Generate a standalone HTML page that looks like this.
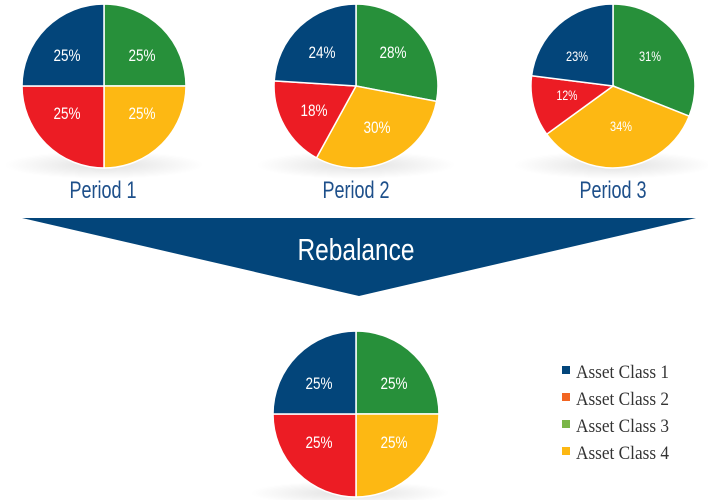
<!DOCTYPE html>
<html><head><meta charset="utf-8"><style>
html,body{margin:0;padding:0;background:#fff;width:708px;height:500px;overflow:hidden}
svg{display:block}
.p{font-family:"Liberation Sans",sans-serif;fill:#fff;text-anchor:middle}
.l{font-family:"Liberation Sans",sans-serif;fill:#1d4f8a;font-size:24px;text-anchor:middle}
.g{font-family:"Liberation Serif",serif;fill:#333;font-size:19px}
</style></head><body>
<svg width="708" height="500" viewBox="0 0 708 500" xmlns="http://www.w3.org/2000/svg">
<defs><radialGradient id="sh" cx="0.5" cy="0.5" r="0.5"><stop offset="0" stop-color="#000" stop-opacity="0.12"/><stop offset="1" stop-color="#000" stop-opacity="0"/></radialGradient></defs>
<ellipse cx="104" cy="165" rx="100" ry="14" fill="url(#sh)"/>
<ellipse cx="356" cy="165" rx="100" ry="14" fill="url(#sh)"/>
<ellipse cx="613" cy="165" rx="100" ry="14" fill="url(#sh)"/>
<ellipse cx="350" cy="493" rx="100" ry="12" fill="url(#sh)"/>
<g stroke="#fff" stroke-width="1.5">
<path d="M104,86 L104,4 A82,82 0 0 1 186,86 Z" fill="#27903a"/>
<path d="M104,86 L186,86 A82,82 0 0 1 104,168 Z" fill="#fdb813"/>
<path d="M104,86 L104,168 A82,82 0 0 1 22,86 Z" fill="#ec1c24"/>
<path d="M104,86 L22,86 A82,82 0 0 1 104,4 Z" fill="#03457a"/>
<path d="M356,86 L356,4 A82,82 0 0 1 436.5,101.4 Z" fill="#27903a"/>
<path d="M356,86 L436.5,101.4 A82,82 0 0 1 316.5,157.9 Z" fill="#fdb813"/>
<path d="M356,86 L316.5,157.9 A82,82 0 0 1 274.2,80.9 Z" fill="#ec1c24"/>
<path d="M356,86 L274.2,80.9 A82,82 0 0 1 356,4 Z" fill="#03457a"/>
<path d="M613,86 L613,4 A82,82 0 0 1 689.2,116.2 Z" fill="#27903a"/>
<path d="M613,86 L689.2,116.2 A82,82 0 0 1 546.7,134.2 Z" fill="#fdb813"/>
<path d="M613,86 L546.7,134.2 A82,82 0 0 1 531.6,75.7 Z" fill="#ec1c24"/>
<path d="M613,86 L531.6,75.7 A82,82 0 0 1 613,4 Z" fill="#03457a"/>
<path d="M356,414 L356,331 A83,83 0 0 1 439,414 Z" fill="#27903a"/>
<path d="M356,414 L439,414 A83,83 0 0 1 356,497 Z" fill="#fdb813"/>
<path d="M356,414 L356,497 A83,83 0 0 1 273,414 Z" fill="#ec1c24"/>
<path d="M356,414 L273,414 A83,83 0 0 1 356,331 Z" fill="#03457a"/>
</g>
<g class="p" font-size="17">
<text x="67" y="61" textLength="27" lengthAdjust="spacingAndGlyphs">25%</text><text x="142" y="61" textLength="27" lengthAdjust="spacingAndGlyphs">25%</text>
<text x="67" y="119" textLength="27" lengthAdjust="spacingAndGlyphs">25%</text><text x="142" y="119" textLength="27" lengthAdjust="spacingAndGlyphs">25%</text>
<text x="322" y="58" textLength="27" lengthAdjust="spacingAndGlyphs">24%</text><text x="393" y="58" textLength="27" lengthAdjust="spacingAndGlyphs">28%</text>
<text x="314" y="116" textLength="27" lengthAdjust="spacingAndGlyphs">18%</text><text x="377" y="133" textLength="27" lengthAdjust="spacingAndGlyphs">30%</text>
</g>
<g class="p" font-size="14">
<text x="577" y="61" textLength="22" lengthAdjust="spacingAndGlyphs">23%</text><text x="650" y="61" textLength="22" lengthAdjust="spacingAndGlyphs">31%</text>
<text x="567" y="100" textLength="21" lengthAdjust="spacingAndGlyphs">12%</text><text x="621" y="131" textLength="22" lengthAdjust="spacingAndGlyphs">34%</text>
</g>
<g class="p" font-size="17">
<text x="319" y="389" textLength="27" lengthAdjust="spacingAndGlyphs">25%</text><text x="394" y="389" textLength="27" lengthAdjust="spacingAndGlyphs">25%</text>
<text x="319" y="448" textLength="27" lengthAdjust="spacingAndGlyphs">25%</text><text x="394" y="448" textLength="27" lengthAdjust="spacingAndGlyphs">25%</text>
</g>
<text class="l" x="103" y="198" textLength="67" lengthAdjust="spacingAndGlyphs">Period 1</text>
<text class="l" x="356" y="198" textLength="67" lengthAdjust="spacingAndGlyphs">Period 2</text>
<text class="l" x="613" y="198" textLength="67" lengthAdjust="spacingAndGlyphs">Period 3</text>
<polygon points="22,218 696,218 359,296" fill="#03457a"/>
<text x="356" y="260" font-family="'Liberation Sans',sans-serif" font-size="31" fill="#fff" text-anchor="middle" textLength="117" lengthAdjust="spacingAndGlyphs">Rebalance</text>
<rect x="562" y="366" width="8" height="8" fill="#03457a"/>
<rect x="562" y="393" width="8" height="8" fill="#f26522"/>
<rect x="562" y="420" width="8" height="8" fill="#7ab648"/>
<rect x="562" y="447" width="8" height="8" fill="#fdb813"/>
<text class="g" x="576" y="378" textLength="93" lengthAdjust="spacingAndGlyphs">Asset Class 1</text>
<text class="g" x="576" y="405" textLength="93" lengthAdjust="spacingAndGlyphs">Asset Class 2</text>
<text class="g" x="576" y="432" textLength="93" lengthAdjust="spacingAndGlyphs">Asset Class 3</text>
<text class="g" x="576" y="459" textLength="93" lengthAdjust="spacingAndGlyphs">Asset Class 4</text>
</svg>
</body></html>
